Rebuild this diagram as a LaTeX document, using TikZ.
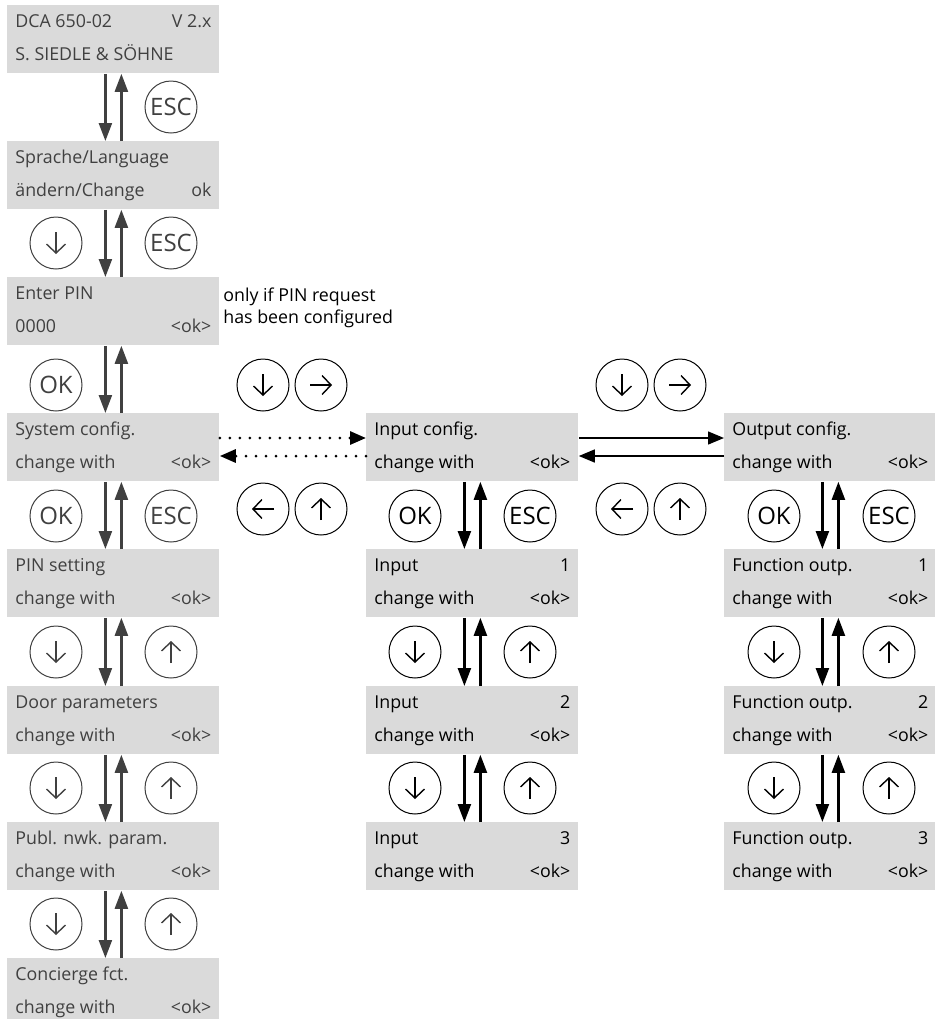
\documentclass[tikz,border=0pt]{standalone}
\usepackage{fontspec}
\setmainfont{Open Sans}
\usetikzlibrary{arrows.meta}
\definecolor{scrgray}{RGB}{218,218,218}
\definecolor{sysgray}{RGB}{64,64,64}
\tikzset{
 screen/.style={fill=scrgray,anchor=north west,minimum width=106pt,minimum height=34pt,inner sep=0pt},
 scrtext/.style={inner sep=0pt},
 keybtn/.style={circle,draw,line width=0.5pt,minimum size=26pt,inner sep=0pt,font=\fontsize{12pt}{14pt}\selectfont},
 keyarrow/.style={line width=0.7pt,-{Straight Barb[length=4.5pt,width=9.5pt]}},
 stepline/.style={line width=1.2pt,-{Triangle[length=9pt,width=6.5pt]}},
 navline/.style={line width=0.7pt,-{Triangle[length=8pt,width=6.5pt]}},
 dotline/.style={navline,line cap=round,dash pattern=on 0pt off 5pt,line width=1.5pt}
}
\newcommand{\screen}[6]{%
 \node[screen] ({#1}) at ({#2}) {};%
 \node[scrtext,anchor=base west] ({#1-a}) at ([shift={(4pt,-11.25pt)}]{#1}.north west) {#3};%
 \node[scrtext,anchor=base east] ({#1-b}) at ([shift={(-4pt,-11.25pt)}]{#1}.north east) {#4};%
 \node[scrtext,anchor=base west] ({#1-c}) at ([shift={(4pt,-27.75pt)}]{#1}.north west) {#5};%
 \node[scrtext,anchor=base east] ({#1-d}) at ([shift={(-4pt,-27.75pt)}]{#1}.north east) {#6};%
}
\newcommand{\key}[3]{%
 \node[keybtn] ({#1}) at ({#2}) {#3};%
}
\newcommand{\arrowkey}[3]{%
 \node[keybtn] ({#1}) at ({#2}) {};%
 \draw[keyarrow] ([shift={(#3+180:5.5pt)}]{#1}.center) -- ([shift={(#3:5.5pt)}]{#1}.center);%
}
\newcommand{\updown}[2]{%
 \draw[stepline] ([xshift=-4pt]{#1}.south) -- ([xshift=-4pt]{#2}.north);%
 \draw[stepline] ([xshift=4pt]{#2}.north) -- ([xshift=4pt]{#1}.south);%
}

\begin{document}
\begin{tikzpicture}[x=0.5pt,y=-0.5pt,every node/.style={font=\fontsize{8.9pt}{10.75pt}\selectfont}]
 \clip (0,0) rectangle (935,1019);
 % system menu
 \begin{scope}[color=sysgray]
  \screen{dca}{7,5}{DCA 650-02}{V 2.x}{S. SIEDLE \& SÖHNE}{};
  \screen{lang}{7,141}{Sprache/Language}{}{ändern/Change}{ok};
  \screen{pin}{7,277}{Enter PIN}{}{0000}{<ok>};
  \screen{sys}{7,413}{System config.}{}{change with}{<ok>};
  \screen{pinset}{7,549}{PIN setting}{}{change with}{<ok>};
  \screen{door}{7,686}{Door parameters}{}{change with}{<ok>};
  \screen{publ}{7,822}{Publ. nwk. param.}{}{change with}{<ok>};
  \screen{conc}{7,958}{Concierge fct.}{}{change with}{<ok>};
  \updown{dca}{lang};
  \updown{lang}{pin};
  \updown{pin}{sys};
  \updown{sys}{pinset};
  \updown{pinset}{door};
  \updown{door}{publ};
  \updown{publ}{conc};
  \key{esca}{171,107}{ESC};
  \arrowkey{dna}{56,243}{270};
  \key{escb}{171,243}{ESC};
  \key{oka}{56,385}{OK};
  \key{okb}{56,516}{OK};
  \key{escc}{171,516}{ESC};
  \arrowkey{dnb}{56,652}{270};
  \arrowkey{upb}{171,652}{90};
  \arrowkey{dnc}{56,788}{270};
  \arrowkey{upc}{171,788}{90};
  \arrowkey{dnd}{56,924}{270};
  \arrowkey{upd}{171,924}{90};
 \end{scope}
 \node[scrtext,anchor=base west] (pinnote1) at (223,301.5) {only if PIN request};
 \node[scrtext,anchor=base west] (pinnote2) at (223,323) {has been configured};
 % inputs
 \screen{inp}{366,413}{Input config.}{}{change with}{<ok>};
 \screen{in1}{366,549}{Input}{1}{change with}{<ok>};
 \screen{in2}{366,686}{Input}{2}{change with}{<ok>};
 \screen{in3}{366,822}{Input}{3}{change with}{<ok>};
 \updown{inp}{in1};
 \updown{in1}{in2};
 \updown{in2}{in3};
 \key{oki}{415,516}{OK};
 \key{esci}{530,516}{ESC};
 \arrowkey{dni1}{415,652}{270};
 \arrowkey{upi1}{530,652}{90};
 \arrowkey{dni2}{415,788}{270};
 \arrowkey{upi2}{530,788}{90};
 % outputs
 \screen{outp}{724,413}{Output config.}{}{change with}{<ok>};
 \screen{out1}{724,549}{Function outp.}{1}{change with}{<ok>};
 \screen{out2}{724,686}{Function outp.}{2}{change with}{<ok>};
 \screen{out3}{724,822}{Function outp.}{3}{change with}{<ok>};
 \updown{outp}{out1};
 \updown{out1}{out2};
 \updown{out2}{out3};
 \key{oko}{774,516}{OK};
 \key{esco}{889,516}{ESC};
 \arrowkey{dno1}{774,652}{270};
 \arrowkey{upo1}{889,652}{90};
 \arrowkey{dno2}{774,788}{270};
 \arrowkey{upo2}{889,788}{90};
 % navigation between menus
 \arrowkey{dnsi}{263,385}{270};
 \arrowkey{rtsi}{321,385}{0};
 \arrowkey{ltsi}{263,509}{180};
 \arrowkey{upsi}{321,509}{90};
 \arrowkey{dnio}{622,385}{270};
 \arrowkey{rtio}{680,385}{0};
 \arrowkey{ltio}{622,509}{180};
 \arrowkey{upio}{680,509}{90};
 \draw[dotline] ([yshift=-12.5pt]sys.north east) -- ([yshift=-12.5pt]inp.north west);
 \draw[dotline] ([yshift=-21.5pt]inp.north west) -- ([yshift=-21.5pt]sys.north east);
 \draw[navline] ([yshift=-12.5pt]inp.north east) -- ([yshift=-12.5pt]outp.north west);
 \draw[navline] ([yshift=-21.5pt]outp.north west) -- ([yshift=-21.5pt]inp.north east);
\end{tikzpicture}
\end{document}
